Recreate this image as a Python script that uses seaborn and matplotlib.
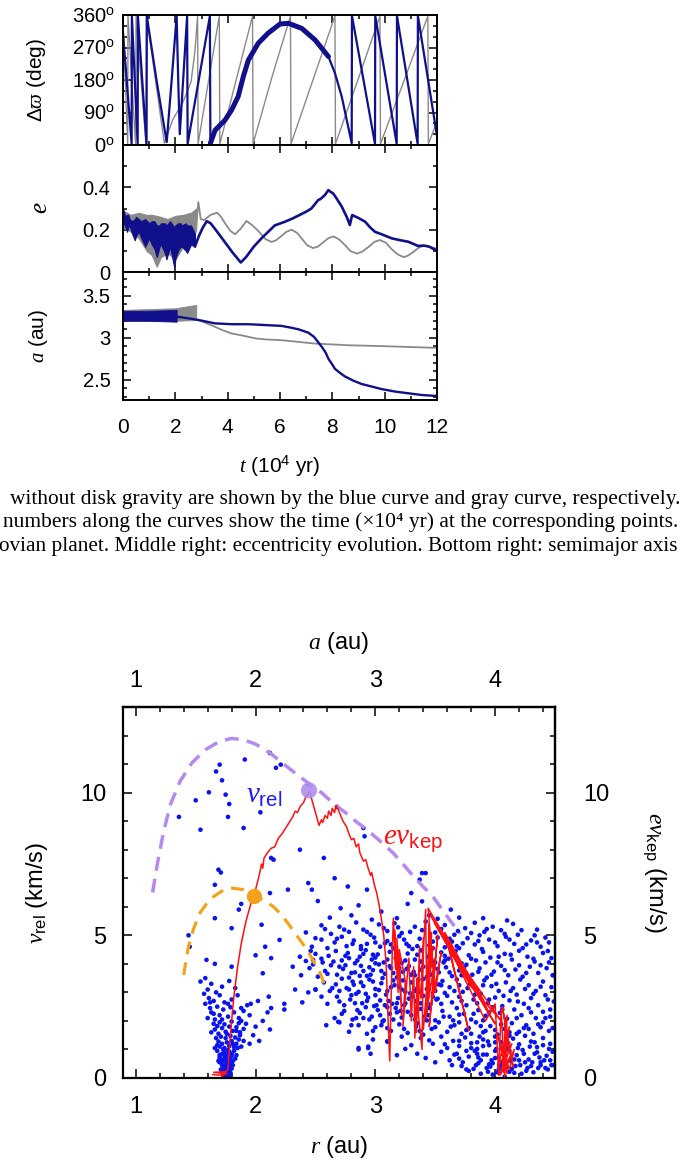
import numpy as np
import matplotlib
matplotlib.use("Agg")
import matplotlib.pyplot as plt
import seaborn as sns
from matplotlib.ticker import MultipleLocator

# ---------------- data: top panels (t in 1e4 yr) ----------------
dw_blue_t = [0.00, 0.33, 0.34, 0.56, 0.57, 0.90, 0.91, 1.28, 1.67, 1.86, 2.05, 2.11, 2.17, 2.45, 2.47, 3.32, 3.34,
             3.52, 3.90, 4.15, 4.40, 4.60, 4.79, 5.17, 5.55, 6.00, 6.32, 6.83, 7.34, 7.85, 8.10, 8.36, 8.74, 8.75,
             9.63, 9.64, 10.46, 10.47, 11.26, 11.27, 12.0]
dw_blue_v = [310, 3, 357, 3, 357, 2, 357, 180, 8, 180, 357, 180, 30, 357, 3, 357, 5,
             41, 69, 97, 134, 190, 235, 282, 310, 335, 337, 323, 291, 245, 199, 134, 5, 358,
             3, 358, 3, 358, 3, 358, 25]
dw_gray_t = [0.00, 0.18, 0.19, 0.48, 0.50, 0.88, 0.90, 1.58, 1.90, 2.30, 2.60, 2.75, 2.85, 2.87, 3.68, 3.70,
             4.95, 4.97, 5.70, 6.40, 6.42, 7.25, 8.10, 8.12, 9.00, 9.82, 9.84, 10.75, 11.65, 11.67, 12.0]
dw_gray_v = [340, 3, 357, 3, 357, 3, 357, 5, 70, 120, 175, 260, 357, 3, 357, 3,
             357, 3, 190, 357, 3, 178, 357, 3, 185, 357, 3, 180, 357, 3, 65]
dw_ticks = [0, 90, 180, 270, 360]

e_gband_t = [0.0, 0.3, 0.6, 0.9, 1.1, 1.29, 1.45, 1.7, 2.0, 2.3, 2.6, 2.8]
e_gband_hi = [0.29, 0.27, 0.28, 0.27, 0.27, 0.265, 0.26, 0.25, 0.265, 0.27, 0.28, 0.30]
e_gband_lo = [0.21, 0.19, 0.16, 0.10, 0.08, 0.025, 0.07, 0.09, 0.06, 0.12, 0.13, 0.20]
e_bband_t = [0.0, 0.1, 0.15, 0.2, 0.25, 0.35, 0.45, 0.5, 0.6, 0.7, 0.85, 1.0, 1.1, 1.2, 1.29, 1.4, 1.45, 1.6,
             1.66, 1.8, 1.96, 2.0, 2.1, 2.2, 2.25, 2.4, 2.45, 2.6, 2.75]
e_bband_hi = [0.30, 0.26, 0.27, 0.27, 0.25, 0.24, 0.25, 0.26, 0.25, 0.24, 0.25, 0.23, 0.24, 0.24, 0.22, 0.22,
              0.23, 0.23, 0.22, 0.24, 0.21, 0.22, 0.23, 0.23, 0.22, 0.23, 0.22, 0.22, 0.18]
e_bband_lo = [0.24, 0.21, 0.19, 0.21, 0.22, 0.18, 0.15, 0.17, 0.19, 0.16, 0.12, 0.16, 0.13, 0.11, 0.07, 0.12,
              0.13, 0.09, 0.06, 0.12, 0.02, 0.06, 0.10, 0.12, 0.12, 0.10, 0.09, 0.13, 0.12]
e_blue_t = [2.75, 2.9, 3.05, 3.2, 3.35, 3.6, 3.9, 4.2, 4.5, 4.7, 5.0, 5.3, 5.55, 5.8, 6.2, 6.5, 7.0, 7.2, 7.46,
            7.55, 7.72, 7.85, 7.92, 8.04, 8.2, 8.36, 8.55, 8.67, 8.72, 8.76, 9.0, 9.25, 9.45, 9.63, 9.95, 10.27,
            10.6, 10.9, 11.28, 11.5, 11.7, 12.0]
e_blue_v = [0.12, 0.17, 0.21, 0.24, 0.23, 0.19, 0.14, 0.09, 0.045, 0.07, 0.12, 0.16, 0.19, 0.22, 0.238, 0.254,
            0.285, 0.30, 0.34, 0.345, 0.364, 0.387, 0.38, 0.37, 0.34, 0.309, 0.26, 0.222, 0.25, 0.269, 0.255,
            0.238, 0.21, 0.19, 0.175, 0.159, 0.15, 0.143, 0.123, 0.125, 0.12, 0.10]
e_gray_t = [2.8, 2.88, 2.97, 3.1, 3.35, 3.6, 3.75, 3.9, 4.1, 4.28, 4.5, 4.72, 4.95, 5.2, 5.45, 5.68, 5.85, 6.05,
            6.25, 6.44, 6.65, 6.85, 7.05, 7.27, 7.45, 7.65, 7.85, 8.04, 8.25, 8.5, 8.7, 8.95, 9.15, 9.4, 9.6,
            9.82, 10.05, 10.25, 10.5, 10.73, 10.9, 11.1, 11.3, 11.47, 11.7, 12.0]
e_gray_v = [0.22, 0.33, 0.25, 0.245, 0.27, 0.28, 0.26, 0.23, 0.195, 0.178, 0.205, 0.241, 0.22, 0.19, 0.155,
            0.142, 0.15, 0.17, 0.19, 0.20, 0.185, 0.155, 0.125, 0.113, 0.12, 0.14, 0.16, 0.168, 0.155, 0.125,
            0.098, 0.087, 0.097, 0.12, 0.142, 0.151, 0.138, 0.11, 0.083, 0.07, 0.078, 0.095, 0.115, 0.123,
            0.12, 0.11]
e_ticks = [0, 0.2, 0.4]

a_bband_t = [0.0, 1.0, 2.05]
a_bband_hi = [3.32, 3.32, 3.33]
a_bband_lo = [3.20, 3.20, 3.19]
a_gband_t = [0.0, 2.0, 2.8]
a_gband_hi = [3.33, 3.35, 3.39]
a_gband_lo = [3.21, 3.20, 3.21]
a_gray_t = [2.8, 2.88, 3.2, 3.51, 3.8, 4.15, 4.5, 4.79, 5.1, 5.43, 6.06, 6.7, 7.34, 8.0, 8.61, 9.25, 9.88, 10.9,
            11.86, 12.0]
a_gray_v = [3.22, 3.21, 3.17, 3.13, 3.09, 3.05, 3.03, 3.01, 2.99, 2.98, 2.97, 2.95, 2.93, 2.92, 2.91, 2.905,
            2.90, 2.89, 2.88, 2.88]
a_blue_t = [2.05, 2.5, 2.88, 3.2, 3.51, 4.15, 4.79, 5.43, 6.06, 6.4, 6.7, 7.08, 7.3, 7.45, 7.6, 7.75, 7.85, 8.0,
            8.1, 8.3, 8.48, 8.8, 9.12, 9.5, 9.88, 10.4, 10.9, 11.4, 11.86, 12.0]
a_blue_v = [3.25, 3.23, 3.21, 3.19, 3.17, 3.16, 3.16, 3.15, 3.14, 3.12, 3.10, 3.06, 3.01, 2.95, 2.89, 2.82, 2.75,
            2.68, 2.63, 2.58, 2.54, 2.49, 2.45, 2.42, 2.39, 2.36, 2.34, 2.32, 2.31, 2.31]
a_ticks = [2.5, 3.0, 3.5]
a_ticklabels = ["2.5", "3", "3.5"]
t_ticks = [0, 2, 4, 6, 8, 10, 12]

# ---------------- data: bottom panel (r in au, v in km/s) ----------------
dots_funnel = [
    (1.74, 0.05), (1.76, 0.08), (1.78, 0.10), (1.73, 0.15), (1.75, 0.20), (1.77, 0.22), (1.79, 0.18), (1.71, 0.30),
    (1.74, 0.32), (1.76, 0.35), (1.78, 0.30), (1.80, 0.33), (1.72, 0.45), (1.75, 0.48), (1.77, 0.42), (1.79, 0.50),
    (1.81, 0.45), (1.70, 0.55), (1.75, 0.03), (1.77, 0.03), (1.73, 0.08), (1.76, 0.14), (1.74, 0.25), (1.79, 0.38),
    (1.73, 0.40), (1.69, 0.60), (1.71, 0.65), (1.73, 0.62), (1.75, 0.70), (1.77, 0.66), (1.79, 0.72), (1.81, 0.60),
    (1.83, 0.68), (1.70, 0.80), (1.72, 0.85), (1.74, 0.90), (1.76, 0.82), (1.78, 0.92), (1.80, 0.85), (1.82, 0.95),
    (1.84, 0.80), (1.68, 0.95), (1.76, 0.58), (1.74, 0.76), (1.66, 1.05), (1.68, 1.15), (1.70, 1.10), (1.72, 1.20),
    (1.74, 1.05), (1.76, 1.25), (1.78, 1.12), (1.80, 1.30), (1.82, 1.08), (1.84, 1.20), (1.86, 1.35), (1.88, 1.10),
    (1.67, 1.40), (1.71, 1.45), (1.75, 1.40), (1.79, 1.48), (1.83, 1.42), (1.87, 1.50), (1.90, 1.30), (1.63, 1.60),
    (1.66, 1.70), (1.69, 1.55), (1.72, 1.75), (1.75, 1.62), (1.78, 1.80), (1.81, 1.65), (1.84, 1.78), (1.87, 1.60),
    (1.90, 1.72), (1.92, 1.90), (1.65, 1.90), (1.70, 1.95), (1.74, 1.88), (1.80, 1.98), (1.86, 1.92), (1.60, 2.10),
    (1.63, 2.30), (1.66, 2.05), (1.70, 2.20), (1.73, 2.40), (1.77, 2.15), (1.82, 2.30), (1.86, 2.10), (1.90, 2.35),
    (1.95, 2.20), (1.62, 2.45), (1.68, 2.50), (1.79, 2.48), (1.88, 2.45), (1.58, 2.60), (1.61, 2.80), (1.65, 2.70),
    (1.70, 2.90), (1.74, 2.65), (1.80, 2.75), (1.85, 2.90), (1.57, 2.95), (1.67, 3.00), (1.60, 3.10), (1.63, 3.30),
    (1.72, 3.20), (1.78, 3.40), (1.58, 3.50), (1.83, 3.15), (1.95, 1.20), (1.98, 1.50), (2.00, 1.80), (2.03, 1.30),
    (2.06, 2.00), (2.10, 2.30), (2.12, 1.70), (1.96, 2.60), (2.02, 2.70),
    (1.73, 0.12), (1.75, 0.12), (1.77, 0.16), (1.74, 0.18), (1.76, 0.28), (1.72, 0.22), (1.78, 0.25), (1.75, 0.38),
    (1.77, 0.52), (1.72, 0.58), (1.78, 0.62), (1.70, 0.72), (1.80, 0.78), (1.73, 1.00), (1.77, 0.98), (1.81, 1.20),
    (1.69, 1.28), (1.85, 1.05), (1.76, 1.55), (1.68, 1.82), (1.84, 1.65), (1.72, 2.05), (1.88, 2.00), (1.65, 2.25),
    (1.77, 2.60), (1.93, 2.55), (1.62, 2.65)]
dots_sparse = [
    (1.36, 9.15), (1.50, 9.73), (1.61, 10.01), (1.67, 10.74), (1.70, 10.98), (1.72, 10.43), (1.75, 9.93),
    (1.78, 9.60), (1.77, 9.15), (1.91, 11.16), (2.04, 9.31), (2.12, 11.39), (2.17, 10.87), (2.21, 10.98),
    (2.44, 10.29), (2.68, 9.50), (1.54, 8.70), (1.90, 8.76), (2.37, 8.00), (2.57, 7.71), (2.90, 8.76),
    (2.91, 8.47), (2.13, 7.71), (2.15, 7.65), (1.69, 7.30), (1.71, 7.20), (1.66, 6.77), (2.44, 6.83),
    (2.47, 6.60), (2.66, 7.00), (2.77, 6.71), (2.93, 6.60), (3.39, 7.18), (3.42, 7.18), (3.37, 6.95),
    (3.30, 6.48), (3.39, 6.19), (2.27, 6.60), (2.12, 6.48), (1.86, 5.90), (1.88, 6.10), (1.66, 5.60),
    (1.44, 5.00), (1.45, 4.60), (1.59, 4.14), (1.66, 4.00), (1.80, 5.25), (1.80, 3.90), (1.54, 3.38),
    (2.05, 5.37), (2.20, 4.84), (2.08, 4.60), (2.00, 4.30), (2.13, 4.20), (2.06, 3.67), (2.31, 3.90),
    (2.37, 4.25), (2.48, 4.14), (2.11, 2.85), (2.13, 2.45), (2.24, 2.60), (2.24, 2.40), (2.33, 3.10),
    (2.39, 2.65), (2.44, 3.00), (2.50, 3.10), (2.59, 1.85), (2.69, 1.97), (2.84, 2.10), (2.86, 1.00),
    (2.94, 1.05), (2.96, 0.85), (3.10, 1.28)]
dots_main = [
    (2.62, 5.62), (2.71, 5.95), (2.80, 5.70), (2.86, 6.05), (2.97, 5.55), (3.05, 5.83), (3.18, 5.60), (3.27, 6.10),
    (3.45, 5.70), (3.52, 5.58), (3.63, 5.90), (3.90, 5.60), (4.10, 5.52), (2.52, 6.20), (3.70, 5.62),
    (2.42, 5.10), (2.55, 5.35), (2.63, 5.05), (2.70, 5.30), (2.78, 5.12), (2.84, 5.45), (2.90, 5.20), (2.96, 5.02),
    (3.03, 5.38), (3.10, 5.15), (3.16, 5.42), (3.22, 5.08), (3.33, 5.30), (3.42, 5.48), (3.50, 5.10), (3.58, 5.36),
    (3.66, 5.02), (3.75, 5.25), (3.83, 5.44), (3.91, 5.12), (3.98, 5.30), (4.08, 5.05), (4.15, 5.40), (4.22, 5.18),
    (4.33, 5.00), (3.87, 5.00),
    (2.47, 4.60), (2.55, 4.85), (2.60, 4.55), (2.66, 4.75), (2.72, 4.95), (2.76, 4.62), (2.82, 4.82), (2.88, 4.52),
    (2.93, 4.70), (2.99, 4.92), (3.04, 4.60), (3.10, 4.80), (3.15, 4.55), (3.20, 4.97), (3.26, 4.70), (3.31, 4.52),
    (3.37, 4.88), (3.45, 4.65), (3.52, 4.92), (3.58, 4.58), (3.64, 4.78), (3.70, 4.55), (3.77, 4.90), (3.83, 4.68),
    (3.89, 4.52), (3.95, 4.85), (4.02, 4.62), (4.09, 4.95), (4.16, 4.70), (4.23, 4.55), (4.30, 4.82), (4.38, 4.60),
    (4.45, 4.75),
    (2.42, 4.10), (2.50, 4.35), (2.56, 4.05), (2.61, 4.28), (2.67, 4.45), (2.72, 4.12), (2.77, 4.38), (2.83, 4.02),
    (2.87, 4.25), (2.92, 4.48), (2.97, 4.15), (3.02, 4.33), (3.07, 4.05), (3.12, 4.42), (3.17, 4.20), (3.22, 4.03),
    (3.27, 4.36), (3.33, 4.15), (3.38, 4.47), (3.44, 4.25), (3.50, 4.05), (3.55, 4.40), (3.61, 4.18), (3.67, 4.45),
    (3.72, 4.02), (3.78, 4.30), (3.84, 4.12), (3.90, 4.42), (3.96, 4.22), (4.02, 4.05), (4.08, 4.35), (4.14, 4.15),
    (4.20, 4.46), (4.27, 4.25), (4.33, 4.08), (4.40, 4.38), (4.47, 4.20), (2.46, 4.45), (3.00, 4.02), (3.58, 4.28),
    (2.38, 3.60), (2.45, 3.85), (2.52, 3.55), (2.58, 3.75), (2.63, 3.95), (2.68, 3.62), (2.73, 3.82), (2.78, 3.52),
    (2.83, 3.70), (2.88, 3.93), (2.93, 3.58), (2.98, 3.78), (3.03, 3.98), (3.08, 3.65), (3.13, 3.85), (3.18, 3.53),
    (3.23, 3.72), (3.28, 3.92), (3.33, 3.60), (3.38, 3.80), (3.43, 3.55), (3.48, 3.95), (3.53, 3.70), (3.59, 3.88),
    (3.64, 3.57), (3.70, 3.77), (3.76, 3.97), (3.81, 3.62), (3.87, 3.84), (3.93, 3.52), (3.99, 3.73), (4.05, 3.93),
    (4.11, 3.60), (4.17, 3.80), (4.23, 3.55), (4.29, 3.90), (4.36, 3.68), (4.43, 3.85), (4.49, 3.60), (2.90, 3.75),
    (3.15, 3.68), (3.45, 3.72), (3.72, 3.60),
    (2.50, 3.10), (2.57, 3.35), (2.62, 3.05), (2.67, 3.28), (2.72, 3.48), (2.76, 3.15), (2.81, 3.38), (2.86, 3.02),
    (2.90, 3.22), (2.95, 3.45), (3.00, 3.12), (3.05, 3.32), (3.10, 3.05), (3.15, 3.42), (3.20, 3.20), (3.25, 3.02),
    (3.30, 3.35), (3.35, 3.15), (3.40, 3.47), (3.45, 3.25), (3.50, 3.05), (3.56, 3.40), (3.62, 3.18), (3.68, 3.45),
    (3.73, 3.02), (3.79, 3.30), (3.85, 3.10), (3.91, 3.42), (3.97, 3.22), (4.03, 3.05), (4.09, 3.35), (4.15, 3.15),
    (4.21, 3.45), (4.28, 3.25), (4.34, 3.05), (4.40, 3.38), (4.47, 3.18), (2.98, 3.38), (3.38, 3.00), (3.70, 3.25),
    (2.60, 2.60), (2.68, 2.85), (2.74, 2.55), (2.79, 2.75), (2.84, 2.95), (2.89, 2.62), (2.94, 2.82), (2.99, 2.52),
    (3.04, 2.72), (3.09, 2.92), (3.14, 2.60), (3.19, 2.80), (3.24, 2.55), (3.29, 2.97), (3.34, 2.70), (3.40, 2.88),
    (3.46, 2.58), (3.52, 2.78), (3.58, 2.98), (3.64, 2.65), (3.70, 2.85), (3.76, 2.55), (3.82, 2.75), (3.88, 2.95),
    (3.94, 2.62), (4.00, 2.82), (4.06, 2.52), (4.12, 2.72), (4.18, 2.92), (4.24, 2.60), (4.30, 2.80), (4.36, 2.55),
    (4.42, 2.90), (4.49, 2.68), (3.00, 2.90), (3.55, 2.60), (3.85, 2.62),
    (2.66, 2.10), (2.74, 2.35), (2.81, 2.05), (2.87, 2.28), (2.92, 2.48), (2.97, 2.15), (3.02, 2.38), (3.07, 2.02),
    (3.12, 2.25), (3.17, 2.45), (3.22, 2.12), (3.27, 2.32), (3.33, 2.05), (3.38, 2.42), (3.44, 2.20), (3.50, 2.02),
    (3.56, 2.35), (3.62, 2.15), (3.68, 2.45), (3.74, 2.25), (3.80, 2.05), (3.86, 2.38), (3.92, 2.18), (3.98, 2.48),
    (4.04, 2.28), (4.10, 2.08), (4.16, 2.40), (4.22, 2.20), (4.28, 2.45), (4.34, 2.10), (4.40, 2.32), (4.46, 2.15),
    (3.10, 2.48), (3.90, 2.02),
    (2.70, 1.95), (2.78, 1.62), (2.86, 1.85), (2.93, 1.55), (3.00, 1.78), (3.06, 1.98), (3.13, 1.65), (3.20, 1.88),
    (3.27, 1.58), (3.34, 1.80), (3.40, 1.52), (3.47, 1.72), (3.53, 1.95), (3.60, 1.62), (3.66, 1.85), (3.72, 1.55),
    (3.78, 1.75), (3.84, 1.95), (3.90, 1.60), (3.96, 1.82), (4.02, 1.52), (4.08, 1.72), (4.14, 1.92), (4.20, 1.62),
    (4.26, 1.85), (4.32, 1.55), (4.38, 1.78), (4.45, 1.65), (3.70, 1.95), (4.05, 1.88),
    (2.86, 1.05), (2.94, 1.10), (2.98, 1.35), (3.10, 1.28), (3.22, 1.45), (3.30, 1.15), (3.38, 1.40), (3.48, 1.20),
    (3.55, 1.45), (3.60, 1.05), (3.65, 1.30), (3.70, 1.12), (3.75, 1.42), (3.80, 1.22), (3.85, 1.02), (3.90, 1.35),
    (3.95, 1.15), (4.00, 1.45), (4.05, 1.25), (4.10, 1.05), (4.15, 1.38), (4.20, 1.18), (4.25, 1.48), (4.30, 1.28),
    (4.35, 1.08), (4.40, 1.40), (4.46, 1.20), (3.87, 1.45), (4.12, 1.48),
    (3.18, 0.80), (3.42, 0.70), (3.55, 0.92), (3.62, 0.62), (3.68, 0.85), (3.73, 0.55), (3.78, 0.75), (3.83, 0.95),
    (3.88, 0.62), (3.93, 0.82), (3.98, 0.52), (4.03, 0.72), (4.08, 0.92), (4.13, 0.60), (4.18, 0.80), (4.23, 0.98),
    (4.28, 0.65), (4.33, 0.85), (4.38, 0.55), (4.43, 0.78), (4.48, 0.92), (3.85, 0.85), (4.00, 0.95),
    (3.72, 0.42), (3.78, 0.25), (3.84, 0.45), (3.88, 0.15), (3.93, 0.35), (3.98, 0.12), (4.03, 0.30), (4.08, 0.05),
    (4.12, 0.22), (4.17, 0.42), (4.22, 0.15), (4.27, 0.35), (4.32, 0.20), (4.38, 0.45), (4.44, 0.30), (3.95, 0.48),
    (4.05, 0.45)]
dots_dense = [
    (2.82, 3.27), (2.87, 3.58), (2.92, 2.95), (2.96, 3.62), (3.01, 2.55), (3.06, 3.50), (3.11, 2.70), (3.16, 3.25),
    (3.21, 2.35), (3.26, 3.82), (3.31, 2.85), (3.36, 3.45), (3.41, 2.15), (3.46, 3.62), (3.51, 2.75), (2.85, 2.38),
    (2.95, 2.05), (3.05, 1.85), (3.15, 2.05), (3.25, 2.62), (3.35, 1.92), (3.45, 2.45), (3.55, 3.25), (3.65, 2.02),
    (3.75, 3.65), (2.78, 4.20), (2.88, 4.62), (2.98, 4.32), (3.08, 4.72), (3.18, 4.38), (3.28, 4.62), (3.38, 4.08),
    (3.48, 4.55), (3.58, 4.12), (3.68, 4.62), (2.70, 3.05), (2.75, 3.95), (2.80, 2.90), (3.12, 3.92), (3.22, 3.10),
    (3.32, 3.72), (3.82, 0.32), (3.86, 0.72), (3.90, 1.12), (3.94, 0.22), (3.97, 0.62), (4.01, 1.02), (4.04, 0.42),
    (4.07, 0.82), (4.11, 1.22), (4.14, 0.32), (4.16, 0.65), (4.19, 1.05), (4.21, 0.45), (4.24, 0.85), (4.26, 0.25),
    (4.29, 1.10), (4.31, 0.55), (4.35, 0.90), (4.36, 0.35), (4.41, 0.62), (4.45, 1.02), (4.47, 0.45), (3.76, 0.95),
    (3.70, 1.30), (3.66, 0.82), (3.80, 1.55), (3.92, 1.65), (4.00, 1.25), (4.18, 1.55), (4.28, 1.72), (4.40, 1.95),
    (4.46, 2.40), (4.48, 3.60), (4.44, 4.45), (4.35, 4.75)]
dots_fill = [
    (2.58, 5.22), (2.68, 4.88), (2.74, 5.20), (2.81, 4.70), (2.93, 5.12), (3.00, 4.75), (3.07, 5.25), (3.13, 4.68),
    (3.19, 5.28), (3.24, 4.85), (3.29, 5.12), (3.35, 4.62), (3.39, 5.18), (3.48, 4.78), (3.55, 5.22), (3.62, 4.88),
    (3.69, 5.15), (3.73, 4.72), (3.80, 5.08), (3.86, 4.80), (3.93, 5.22), (4.00, 4.75), (4.05, 5.18), (4.12, 4.85),
    (4.19, 5.02), (4.26, 4.68), (4.35, 5.20), (4.42, 4.92), (2.50, 4.90),
    (2.48, 3.98), (2.55, 4.18), (2.60, 3.65), (2.65, 4.08), (2.70, 3.90), (2.75, 4.28), (2.80, 3.68), (2.85, 4.12),
    (2.90, 4.35), (2.95, 3.88), (3.00, 4.22), (3.05, 3.75), (3.10, 4.15), (3.20, 3.85), (3.25, 4.12), (3.30, 3.62),
    (3.35, 4.32), (3.40, 3.90), (3.47, 4.12), (3.52, 3.82), (3.57, 4.05), (3.62, 3.70), (3.66, 4.30), (3.74, 3.88),
    (3.80, 4.18), (3.86, 3.72), (3.92, 4.05), (3.97, 3.62), (4.03, 4.25), (4.08, 3.78), (4.13, 4.32), (4.20, 3.95),
    (4.26, 3.68), (4.32, 4.18), (4.38, 3.95), (4.45, 4.05),
    (2.55, 2.85), (2.64, 3.15), (2.70, 2.68), (2.78, 3.10), (2.83, 2.62), (2.88, 3.35), (2.93, 2.70), (3.03, 3.08),
    (3.08, 2.55), (3.13, 3.18), (3.18, 2.62), (3.23, 3.42), (3.28, 2.78), (3.33, 3.05), (3.38, 2.62), (3.43, 3.12),
    (3.48, 2.85), (3.53, 3.28), (3.60, 2.88), (3.66, 3.05), (3.72, 2.70), (3.77, 3.15), (3.83, 2.92), (3.90, 3.25),
    (3.95, 2.75), (4.01, 3.30), (4.07, 2.88), (4.13, 3.05), (4.19, 2.68), (4.25, 3.12), (4.32, 2.95), (4.38, 3.20),
    (4.44, 2.75),
    (2.72, 2.25), (2.80, 1.85), (2.90, 2.10), (2.98, 1.65), (3.04, 2.20), (3.10, 1.75), (3.18, 2.30), (3.24, 1.72),
    (3.30, 2.20), (3.37, 1.65), (3.43, 2.02), (3.50, 1.78), (3.57, 2.15), (3.63, 1.80), (3.70, 2.22), (3.76, 1.68),
    (3.82, 2.25), (3.88, 1.82), (3.95, 2.30), (4.00, 1.68), (4.06, 2.40), (4.12, 1.60), (4.18, 2.10), (4.24, 1.75),
    (4.30, 2.30), (4.36, 1.88), (4.42, 2.10), (4.48, 1.75),
    (3.25, 1.02), (3.35, 0.85), (3.45, 1.32), (3.50, 0.55), (3.58, 1.18), (3.64, 0.45), (3.70, 0.68), (3.76, 0.30),
    (3.80, 1.05), (3.86, 0.52), (3.90, 0.82), (3.96, 0.40), (4.00, 0.70), (4.02, 0.20), (4.06, 0.58), (4.10, 0.38),
    (4.12, 0.95), (4.16, 0.18), (4.20, 0.62), (4.25, 0.55), (4.30, 0.42), (4.33, 1.25), (4.37, 0.72), (4.42, 0.35),
    (4.46, 0.62), (4.49, 0.45), (4.40, 1.15), (3.94, 1.28), (4.08, 1.15), (3.85, 1.25)]

red_path = [
    (1.64, 0.12), (1.70, 0.10), (1.76, 0.15), (1.65, 0.20), (1.75, 0.22), (1.72, 0.06), (1.77, 0.30),
    (1.78, 1.00), (1.80, 2.00), (1.82, 2.90), (1.85, 3.90), (1.88, 4.70), (1.92, 5.50), (1.96, 6.10), (2.00, 6.60),
    (2.03, 7.10), (2.05, 7.50), (2.06, 7.35), (2.07, 7.70), (2.10, 7.90), (2.13, 8.05), (2.16, 8.10), (2.19, 8.40),
    (2.22, 8.55), (2.25, 8.75), (2.28, 8.95), (2.31, 9.15), (2.33, 9.35), (2.35, 9.30), (2.37, 9.50), (2.40, 9.65),
    (2.42, 9.85), (2.45, 10.05), (2.48, 9.60), (2.51, 9.15), (2.53, 8.85), (2.55, 9.05), (2.56, 8.95), (2.58, 9.20),
    (2.60, 9.10), (2.61, 9.35), (2.63, 9.20), (2.64, 9.45), (2.66, 9.30), (2.67, 9.55), (2.69, 9.40), (2.71, 9.20),
    (2.73, 9.00), (2.76, 8.80), (2.78, 8.55), (2.80, 8.35), (2.82, 8.40), (2.84, 8.10), (2.86, 8.20), (2.87, 7.90),
    (2.90, 7.60), (2.92, 7.65), (2.94, 7.35), (2.96, 7.10), (2.97, 7.20), (2.99, 6.80), (3.01, 6.50), (3.03, 6.10),
    (3.05, 5.60), (3.07, 5.00), (3.09, 4.00), (3.10, 2.80), (3.11, 1.60), (3.12, 0.60),
    (3.13, 2.50), (3.14, 4.20), (3.15, 5.60), (3.17, 3.80), (3.16, 5.20), (3.19, 3.00), (3.18, 4.90), (3.22, 2.20),
    (3.20, 4.50), (3.25, 3.40), (3.23, 1.80), (3.28, 4.20), (3.30, 2.00), (3.32, 3.90), (3.33, 1.40), (3.35, 3.50),
    (3.34, 1.60), (3.37, 4.60), (3.36, 2.20), (3.39, 1.00), (3.40, 4.90), (3.38, 2.80), (3.42, 5.90), (3.43, 2.30),
    (3.45, 5.40), (3.44, 2.90), (3.47, 5.10), (3.40, 1.70), (3.48, 4.60), (3.42, 2.10), (3.50, 4.20), (3.45, 1.80),
    (3.52, 5.00), (3.47, 2.60), (3.55, 4.40), (3.50, 3.00),
    (3.44, 5.95), (3.90, 2.75), (3.70, 3.90), (3.46, 5.70), (3.95, 2.30), (3.58, 5.10), (3.78, 1.65), (3.62, 4.50),
    (4.00, 1.90), (3.50, 5.40), (3.80, 3.20), (4.05, 2.00), (3.60, 4.70), (3.92, 2.00),
    (4.00, 2.60), (4.03, 0.10), (4.05, 2.40), (4.08, 0.05), (4.10, 2.20), (4.06, 0.30), (4.12, 1.80), (4.02, 0.40),
    (4.14, 1.20), (4.04, 0.10), (4.13, 0.80), (4.06, 2.50), (4.15, 0.40), (4.08, 1.90), (4.10, 0.15), (4.02, 1.50),
    (4.12, 0.30), (4.16, 1.00), (4.07, 0.20), (4.10, 1.30), (4.05, 0.15)]

purple_r = [1.14, 1.18, 1.23, 1.29, 1.37, 1.47, 1.58, 1.70, 1.80, 1.90, 2.00, 2.12, 2.25, 2.35, 2.45, 2.55, 2.65,
            2.75, 2.85, 2.93, 3.04, 3.15, 3.24, 3.32, 3.40, 3.48, 3.55, 3.62, 3.71]
purple_v = [6.5, 7.5, 8.6, 9.6, 10.4, 11.05, 11.5, 11.8, 11.9, 11.85, 11.7, 11.39, 10.95, 10.62, 10.3, 10.0, 9.62,
            9.3, 8.95, 8.7, 8.3, 7.88, 7.45, 7.06, 6.7, 6.36, 5.95, 5.54, 5.05]
orange_r = [1.40, 1.42, 1.44, 1.48, 1.53, 1.59, 1.65, 1.73, 1.81, 1.90, 2.00, 2.08, 2.15, 2.22, 2.29, 2.36, 2.43,
            2.49, 2.54, 2.59]
orange_v = [3.61, 4.15, 4.60, 5.20, 5.75, 6.10, 6.36, 6.58, 6.65, 6.60, 6.36, 6.20, 6.00, 5.70, 5.31, 4.90, 4.49,
            4.05, 3.67, 3.09]
purple_dot = (2.446, 10.08)
orange_dot = (1.99, 6.36)
r_ticks = [1, 2, 3, 4]
v_ticks = [0, 5, 10]

caption_lines = [
    "without disk gravity are shown by the blue curve and gray curve, respectively.",
    "numbers along the curves show the time (\u00d710\u2074 yr) at the corresponding points.",
    "ovian planet. Middle right: eccentricity evolution. Bottom right: semimajor axis",
]

# ---------------- style ----------------
sns.set_theme(style="ticks")
plt.rcParams.update({
    "font.family": ["Liberation Sans", "DejaVu Sans"],
    "mathtext.fontset": "custom",
    "mathtext.rm": "Liberation Sans",
    "mathtext.sf": "Liberation Sans",
    "mathtext.it": "Liberation Serif:italic",
    "mathtext.bf": "Liberation Sans:bold",
    "axes.edgecolor": "black", "xtick.color": "black", "ytick.color": "black",
    "text.color": "black", "axes.labelcolor": "black",
})

BLUE = "#10108c"
GRAY = "#8a8a8a"
W, H = 694.0, 1165.0
fig = plt.figure(figsize=(W / 100, H / 100), dpi=100)


def rect(x0, y0, x1, y1):
    return [x0 / W, 1 - y1 / H, (x1 - x0) / W, (y1 - y0) / H]


def ftext(x, y, s, **kw):
    return fig.text(x / W, 1 - y / H, s, **kw)


def sline(ax, x, y, **kw):
    sns.lineplot(x=np.asarray(x, float), y=np.asarray(y, float), sort=False, estimator=None,
                 legend=False, ax=ax, **kw)


def style_axes(ax, lw=1.4, major=5.5, minor=3.0):
    for s in ax.spines.values():
        s.set_linewidth(lw)
        s.set_color("black")
        s.set_visible(True)
    ax.tick_params(which="both", direction="in", width=1.1, colors="black")
    ax.tick_params(which="major", length=major)
    ax.tick_params(which="minor", length=minor)
    ax.set_xlabel("")
    ax.set_ylabel("")


ax1 = fig.add_axes(rect(123, 15, 437, 145))
ax2 = fig.add_axes(rect(123, 145, 437, 272))
ax3 = fig.add_axes(rect(123, 272, 437, 400))
ax4 = fig.add_axes(rect(123, 707, 555, 1078))

# ---- panel 1: delta varpi ----
sline(ax1, dw_gray_t, dw_gray_v, color=GRAY, lw=1.0)
sline(ax1, dw_blue_t, dw_blue_v, color=BLUE, lw=1.6)
bt = np.asarray(dw_blue_t)
hump = (bt >= 3.34) & (bt <= 7.9)
sline(ax1, bt[hump], np.asarray(dw_blue_v)[hump], color=BLUE, lw=3.6)
ax1.set_ylim(0, 360)
ax1.set_yticks(dw_ticks)
ax1.set_yticklabels([f"{d}" + r"$^{\rm o}$" for d in dw_ticks])
ax1.yaxis.set_minor_locator(MultipleLocator(30))

# ---- panel 2: eccentricity ----
ax2.fill_between(e_gband_t, e_gband_lo, e_gband_hi, color=GRAY, lw=0.8, edgecolor=GRAY)
sline(ax2, e_gray_t, e_gray_v, color=GRAY, lw=1.3)
ax2.fill_between(e_bband_t, e_bband_lo, e_bband_hi, color=BLUE, lw=0.8, edgecolor=BLUE)
sline(ax2, e_blue_t, e_blue_v, color=BLUE, lw=1.9)
ax2.set_ylim(0, 0.6)
ax2.set_yticks(e_ticks)
ax2.set_yticklabels(["0", "0.2", "0.4"])
ax2.yaxis.set_minor_locator(MultipleLocator(0.1))

# ---- panel 3: semimajor axis ----
ax3.fill_between(a_gband_t, a_gband_lo, a_gband_hi, color=GRAY, lw=0.6, edgecolor=GRAY)
sline(ax3, a_gray_t, a_gray_v, color=GRAY, lw=1.3)
ax3.fill_between(a_bband_t, a_bband_lo, a_bband_hi, color=BLUE, lw=0.6, edgecolor=BLUE)
sline(ax3, a_blue_t, a_blue_v, color=BLUE, lw=1.7)
ax3.set_ylim(2.26, 3.78)
ax3.set_yticks(a_ticks)
ax3.set_yticklabels(a_ticklabels)
ax3.yaxis.set_minor_locator(MultipleLocator(0.1))

for ax in (ax1, ax2, ax3):
    ax.set_xlim(0, 12)
    ax.set_xticks(t_ticks)
    ax.xaxis.set_minor_locator(MultipleLocator(1))
    style_axes(ax)
    ax.tick_params(which="both", top=True, right=True)
    ax.tick_params(axis="y", labelsize=14.5, pad=9)
    ax.tick_params(axis="x", labelsize=15, pad=13)
ax1.tick_params(axis="x", labelbottom=False)
ax2.tick_params(axis="x", labelbottom=False)
ax1.tick_params(axis="y", pad=6)
ax3.set_xticklabels([str(t) for t in t_ticks])

ftext(37, 80, r"$\Delta\varpi$ (deg)", rotation=90, ha="center", va="center", fontsize=15)
ftext(40, 208, r"$e$", rotation=90, ha="center", va="center", fontsize=18)
ftext(38, 336, r"$a$ (au)", rotation=90, ha="center", va="center", fontsize=15)
ftext(280, 466, r"$t$ (10$^{\rm 4}$ yr)", ha="center", va="center", fontsize=15)

# ---- bottom panel ----
all_dots = dots_funnel + dots_sparse + dots_main + dots_dense + dots_fill
dot_r = [p[0] for p in all_dots]
dot_v = [p[1] for p in all_dots]
sns.scatterplot(x=dot_r, y=dot_v, s=11, color="#0a14f0", edgecolor="none", linewidth=0, ax=ax4, legend=False,
                zorder=2)
sline(ax4, purple_r, purple_v, color="#b589ee", lw=2.5, linestyle=(0, (4, 2.4)), zorder=3)
sline(ax4, orange_r, orange_v, color="#f2a31c", lw=2.3, linestyle=(0, (4, 2.6)), zorder=3)
sline(ax4, [p[0] for p in red_path], [p[1] for p in red_path], color="#ff1010", lw=1.1, zorder=4)
sns.scatterplot(x=[purple_dot[0]], y=[purple_dot[1]], s=135, color="#b08ef0", edgecolor="none", alpha=0.9,
                ax=ax4, legend=False, zorder=5)
sns.scatterplot(x=[orange_dot[0]], y=[orange_dot[1]], s=120, color="#f5a21a", edgecolor="none",
                ax=ax4, legend=False, zorder=5)
ax4.set_xlim(0.893, 4.5)
ax4.set_ylim(0, 13)
ax4.set_xticks(r_ticks)
ax4.set_yticks(v_ticks)
ax4.xaxis.set_minor_locator(MultipleLocator(0.2))
ax4.yaxis.set_minor_locator(MultipleLocator(1))
style_axes(ax4, lw=1.6, major=6.5, minor=3.5)
ax4.tick_params(which="both", top=False, right=False)
ax4.tick_params(axis="x", labelsize=17, pad=13)
ax4.tick_params(axis="y", labelsize=17, pad=12)
ax4.set_xticklabels([str(r) for r in r_ticks])
ax4.set_yticklabels([str(v) for v in v_ticks])

secx = ax4.secondary_xaxis("top")
secx.set_xticks(r_ticks)
secx.set_xticklabels([str(r) for r in r_ticks])
secx.xaxis.set_minor_locator(MultipleLocator(0.2))
secx.tick_params(which="both", direction="in", width=1.1, colors="black", labelsize=17, pad=11)
secx.tick_params(which="major", length=6.5)
secx.tick_params(which="minor", length=3.5)
secx.spines["top"].set_linewidth(1.6)

secy = ax4.secondary_yaxis("right")
secy.set_yticks(v_ticks)
secy.set_yticklabels([str(v) for v in v_ticks])
secy.yaxis.set_minor_locator(MultipleLocator(1))
secy.tick_params(which="both", direction="in", width=1.1, colors="black", labelsize=17, pad=20)
secy.tick_params(which="major", length=6.5)
secy.tick_params(which="minor", length=3.5)
secy.spines["right"].set_linewidth(1.6)

ax4.text(2.07, 9.93, r"$v_{\rm rel}$", color="#1a1aff", fontsize=21, ha="center", va="center", zorder=6)
ax4.text(3.31, 8.35, r"$ev_{\rm kep}$", color="#ff1010", fontsize=21, ha="center", va="center", zorder=6)

ftext(339, 643, r"$a$ (au)", ha="center", va="center", fontsize=17)
ftext(339, 1147, r"$r$ (au)", ha="center", va="center", fontsize=17)
ftext(37, 893, r"$v_{\rm rel}$ (km/s)", rotation=90, ha="center", va="center", fontsize=17)
ftext(654, 872, r"$ev_{\rm kep}$ (km/s)", rotation=270, ha="center", va="center", fontsize=17)

# ---- caption fragment ----
fig.canvas.draw()
renderer = fig.canvas.get_renderer()
cap_layout = [(10, 680, 504), (3, 680, 527), (-1, 680, 551)]
for txt, (x0, x1, yb) in zip(caption_lines, cap_layout):
    t = ftext(x0, yb, txt, fontsize=14, family=["Liberation Serif", "DejaVu Serif"], ha="left", va="baseline")
    w = t.get_window_extent(renderer).width
    t.set_fontsize(14 * (x1 - x0) / w)

fig.savefig("out.png", dpi=100, facecolor="white")
